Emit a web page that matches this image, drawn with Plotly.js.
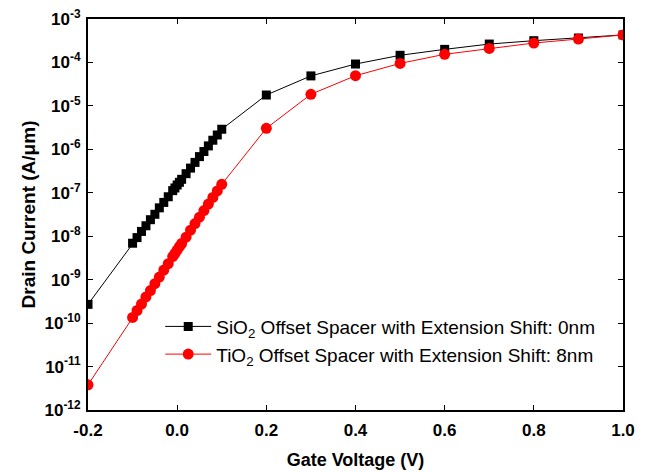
<!DOCTYPE html>
<html>
<head>
<meta charset="utf-8">
<script src="https://cdn.plot.ly/plotly-3.0.1.min.js"></script>
<style>html,body{margin:0;padding:0;background:#fff;}#chart{width:646px;height:472px;}</style>
</head>
<body>
<div id="chart"></div>
<script>
// Gate voltage (V)
const vgSiO2 = [-0.2, -0.10, -0.09, -0.08, -0.07, -0.06, -0.05, -0.04, -0.03, -0.02, -0.01, -0.005, 0.00, 0.005, 0.01, 0.02, 0.03, 0.04, 0.05, 0.06, 0.07, 0.08, 0.09, 0.10, 0.2, 0.3, 0.4, 0.5, 0.6, 0.7, 0.8, 0.9, 1.0];
// Drain current (A/um), SiO2 spacer, shift 0nm
const idSiO2 = [2.7e-10, 6.9e-9, 9.3e-9, 1.29e-8, 1.74e-8, 2.4e-8, 3.2e-8, 4.5e-8, 6.0e-8, 8.1e-8, 1.12e-7, 1.29e-7, 1.51e-7, 1.74e-7, 2.04e-7, 2.75e-7, 3.7e-7, 5.0e-7, 6.8e-7, 8.9e-7, 1.2e-6, 1.62e-6, 2.14e-6, 2.9e-6, 1.78e-5, 4.9e-5, 9.2e-5, 1.46e-4, 2.0e-4, 2.65e-4, 3.17e-4, 3.65e-4, 4.3e-4];
const vgTiO2 = [-0.2, -0.10, -0.09, -0.08, -0.07, -0.06, -0.05, -0.04, -0.03, -0.02, -0.01, -0.005, 0.00, 0.005, 0.01, 0.02, 0.03, 0.04, 0.05, 0.06, 0.07, 0.08, 0.09, 0.10, 0.2, 0.3, 0.4, 0.5, 0.6, 0.7, 0.8, 0.9, 1.0];
// Drain current (A/um), TiO2 spacer, shift 8nm
const idTiO2 = [3.8e-12, 1.35e-10, 1.95e-10, 2.75e-10, 4.0e-10, 5.6e-10, 8.1e-10, 1.15e-9, 1.66e-9, 2.34e-9, 3.4e-9, 4.0e-9, 4.8e-9, 5.75e-9, 6.8e-9, 9.5e-9, 1.38e-8, 1.95e-8, 2.75e-8, 3.9e-8, 5.5e-8, 7.8e-8, 1.1e-7, 1.57e-7, 3.05e-6, 1.85e-5, 4.95e-5, 9.5e-5, 1.54e-4, 2.1e-4, 2.8e-4, 3.46e-4, 4.3e-4];

const nameSiO2 = "SiO<sub>2</sub> Offset Spacer with Extension Shift: 0nm";
const nameTiO2 = "TiO<sub>2</sub> Offset Spacer with Extension Shift: 8nm";

const yTickVals = [1e-12, 1e-11, 1e-10, 1e-9, 1e-8, 1e-7, 1e-6, 1e-5, 1e-4, 1e-3];
const yTickText = ["10<sup>-12</sup>", "10<sup>-11</sup>", "10<sup>-10</sup>", "10<sup>-9</sup>", "10<sup>-8</sup>", "10<sup>-7</sup>", "10<sup>-6</sup>", "10<sup>-5</sup>", "10<sup>-4</sup>", "10<sup>-3</sup>"];
const xTickVals = [-0.2, 0.0, 0.2, 0.4, 0.6, 0.8, 1.0];
const xTickText = ["-0.2", "0.0", "0.2", "0.4", "0.6", "0.8", "1.0"];

const traces = [
  {x: vgSiO2, y: idSiO2, name: nameSiO2, type: "scatter", mode: "lines+markers",
   line: {color: "#000000", width: 1}, marker: {symbol: "square", size: 9, color: "#000000"}},
  {x: vgTiO2, y: idTiO2, name: nameTiO2, type: "scatter", mode: "lines+markers",
   line: {color: "#ff0000", width: 1}, marker: {symbol: "circle", size: 11, color: "#ff0000"}}
];

const fontFam = "Liberation Sans, Arial, sans-serif";
const layout = {
  width: 646, height: 472,
  margin: {l: 88, r: 23, t: 19, b: 62},
  paper_bgcolor: "#fff", plot_bgcolor: "#fff",
  showlegend: true,
  legend: {x: 0.135, y: 0.262, xanchor: "left", yanchor: "top", bgcolor: "rgba(0,0,0,0)",
           font: {family: fontFam, size: 19, color: "#000"}, itemwidth: 46, tracegroupgap: 0},
  xaxis: {
    range: [-0.2, 1.0], tickvals: xTickVals, ticktext: xTickText,
    ticks: "inside", ticklen: 5, tickwidth: 1, tickcolor: "#000",
    showline: true, linewidth: 2, linecolor: "#000", mirror: "allticks",
    showgrid: false, zeroline: false, ticklabelstandoff: 4,
    tickfont: {family: fontFam, size: 17, color: "#000", weight: "bold"},
    title: {text: "<b>Gate Voltage (V)</b>", font: {family: fontFam, size: 18, color: "#000"}, standoff: 14}
  },
  yaxis: {
    type: "log", range: [-12, -3], tickvals: yTickVals, ticktext: yTickText,
    ticks: "inside", ticklen: 5, tickwidth: 1, tickcolor: "#000",
    showline: true, linewidth: 2, linecolor: "#000", mirror: "allticks",
    showgrid: false, zeroline: false, ticklabelstandoff: 2,
    tickfont: {family: fontFam, size: 17, color: "#000", weight: "bold"},
    title: {text: "<b>Drain Current (A/μm)</b>", font: {family: fontFam, size: 19, color: "#000"}, standoff: 4}
  }
};

Plotly.newPlot("chart", traces, layout, {displayModeBar: false, staticPlot: true});
</script>
</body>
</html>
